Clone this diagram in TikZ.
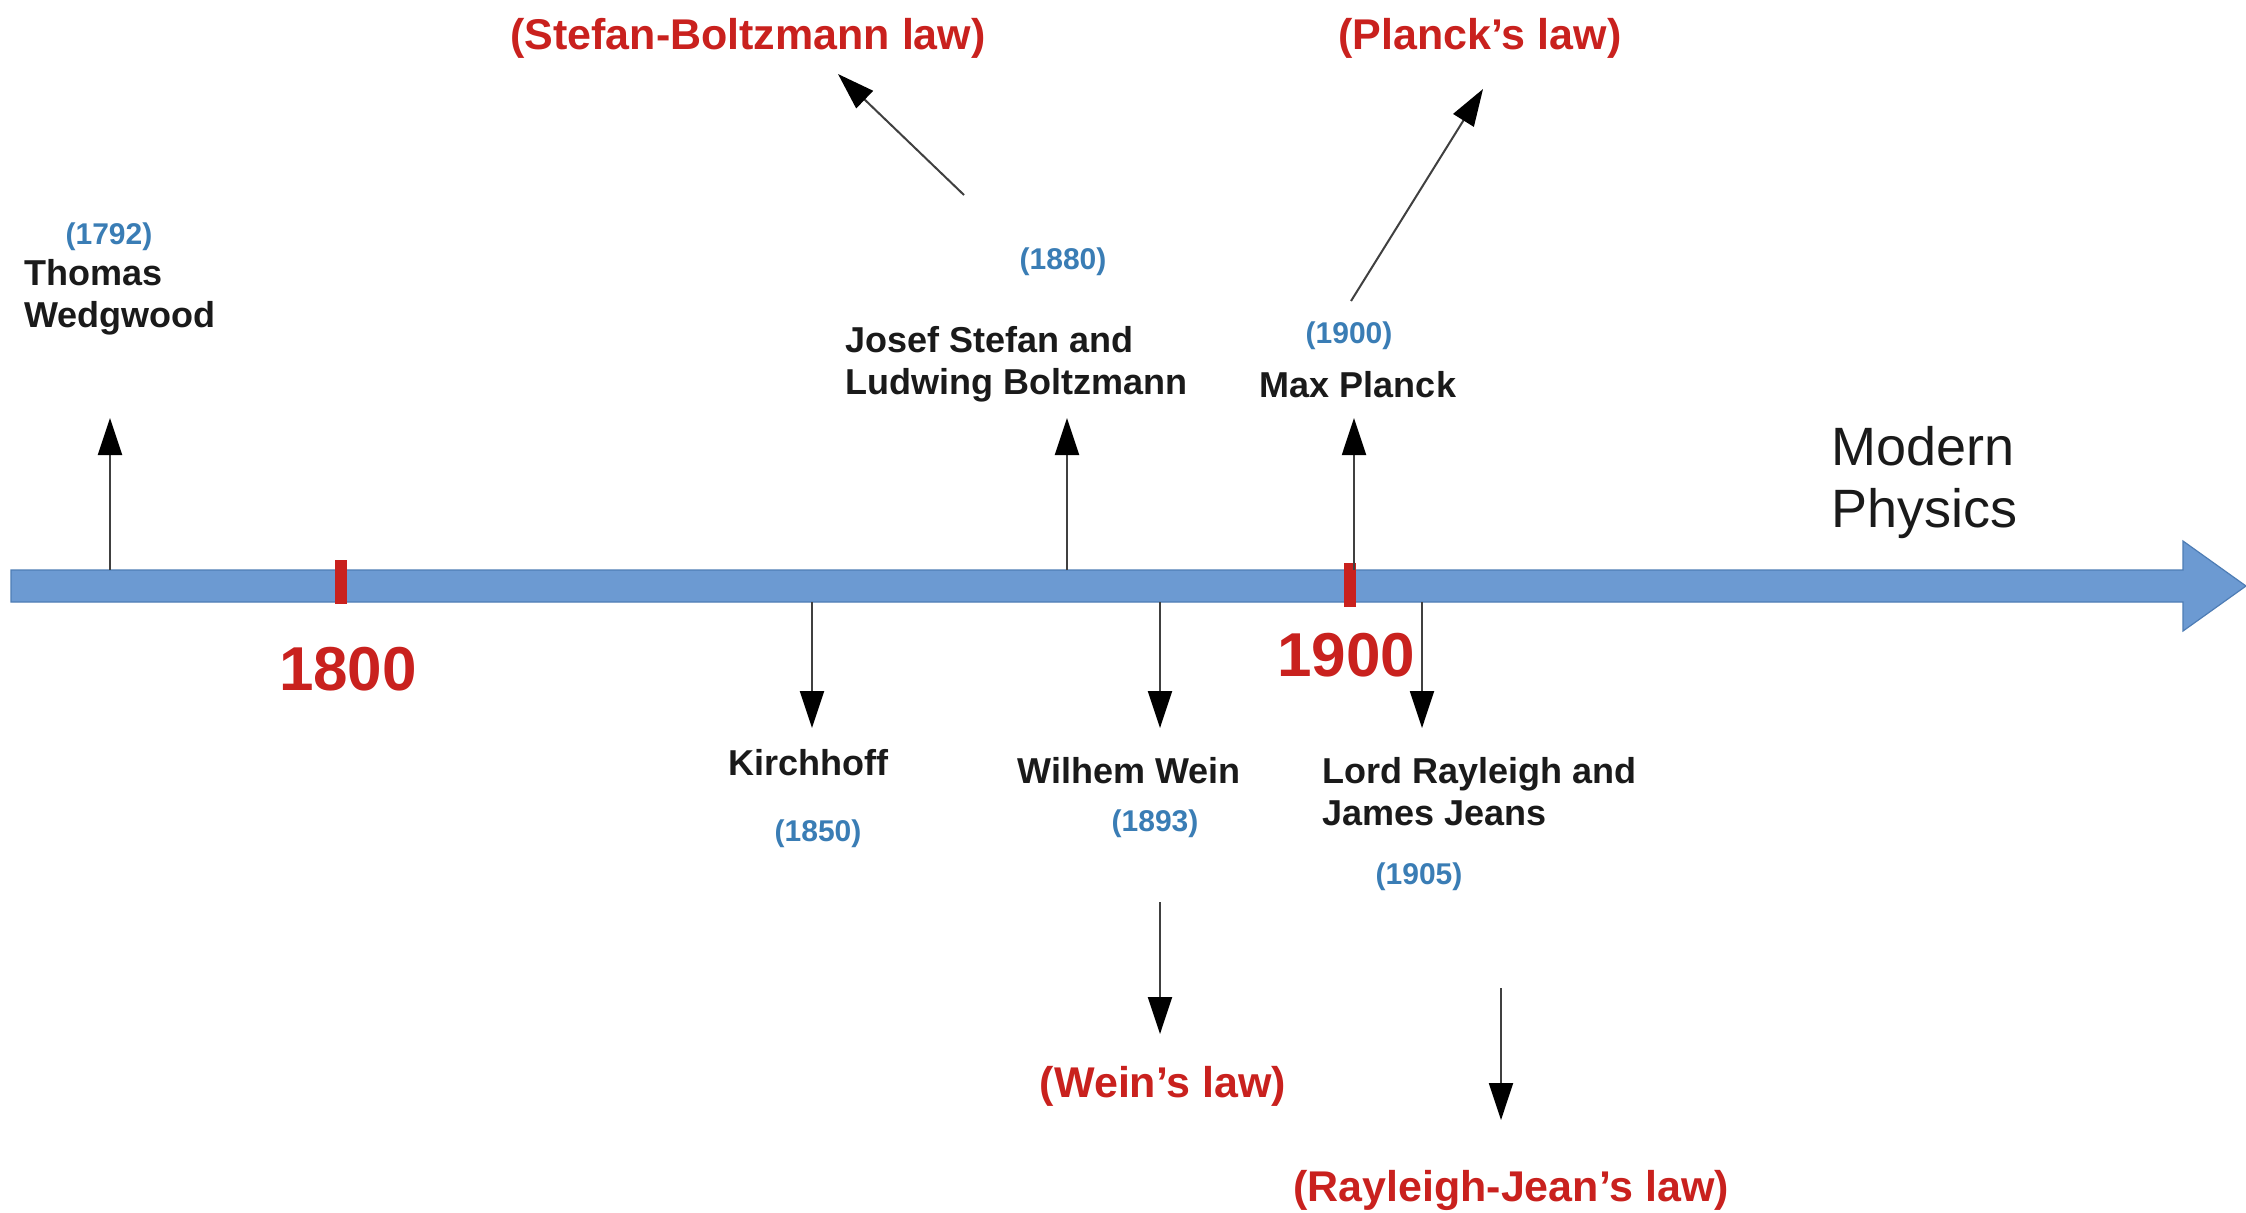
\documentclass[tikz,border=0pt]{standalone}
\usepackage{fontspec}
\setmainfont{Liberation Sans}
\usetikzlibrary{arrows.meta}
\definecolor{barblue}{HTML}{6C9AD2}
\definecolor{baredge}{HTML}{4E7DB5}
\definecolor{lawred}{HTML}{C9211E}
\definecolor{yearblue}{HTML}{3A7DB5}
\definecolor{txt}{HTML}{1A1A1A}
\tikzset{
  namelbl/.style={font=\bfseries\fontsize{18}{21}\selectfont, text=txt, inner sep=0pt, align=left},
  yearlbl/.style={font=\bfseries\fontsize{15}{18}\selectfont, text=yearblue, inner sep=0pt},
  lawlbl/.style={font=\bfseries\fontsize{21.5}{25}\selectfont, text=lawred, inner sep=0pt},
  centlbl/.style={font=\bfseries\fontsize{31}{36}\selectfont, text=lawred, inner sep=0pt},
  modlbl/.style={font=\fontsize{27}{31}\selectfont, text=txt, inner sep=0pt, align=left},
  evarrow/.style={draw=black!75, line width=1pt, -{Triangle[length=18.5pt,width=12pt,fill=black,color=black]}},
  tickmark/.style={fill=lawred, draw=none}
}
\begin{document}
\begin{tikzpicture}[x=0.5pt,y=-0.5pt]
\useasboundingbox (0,0) rectangle (2246,1212);
\fill[white] (0,0) rectangle (2246,1212);
% timeline bar
\filldraw[fill=barblue, draw=baredge, line width=0.6pt]
  (11,570) -- (2183,570) -- (2183,541) -- (2246,586) -- (2183,631) -- (2183,602) -- (11,602) -- cycle;
% century ticks
\fill[tickmark] (335,560) rectangle (347,604);
\fill[tickmark] (1344,563) rectangle (1356,607);
\node[centlbl] (c1800) at (348,669) {1800};
\node[centlbl] (c1900) at (1346,655) {1900};
% anchor points on the bar
\coordinate (pTW) at (110,570);
\coordinate (pSB) at (1067,570);
\coordinate (pMP) at (1354,570);
\coordinate (pKH) at (812,602);
\coordinate (pWW) at (1160,602);
\coordinate (pRJ) at (1422,602);
% arrow tips
\coordinate (tTW) at (110,418);
\coordinate (tSB) at (1067,418);
\coordinate (tMP) at (1354,418);
\coordinate (tKH) at (812,728);
\coordinate (tWW) at (1160,728);
\coordinate (tRJ) at (1422,728);
% labels
\node[yearlbl] (y1792) at (109,237) {(1792)};
\node[namelbl, anchor=west] (nTW) at (24,297) {Thomas\\Wedgwood};
\node[yearlbl] (y1880) at (1063,262) {(1880)};
\node[namelbl, anchor=west] (nSB) at (845,364) {Josef Stefan and\\Ludwing Boltzmann};
\node[yearlbl] (y1900) at (1349,336) {(1900)};
\node[namelbl] (nMP) at (1358,385) {Max Planck};
\node[namelbl] (nKH) at (808,763) {Kirchhoff};
\node[yearlbl] (y1850) at (818,834) {(1850)};
\node[namelbl] (nWW) at (1129,771) {Wilhem Wein};
\node[yearlbl] (y1893) at (1155,824) {(1893)};
\node[namelbl, anchor=west] (nRJ) at (1322,792) {Lord Rayleigh and\\James Jeans};
\node[yearlbl] (y1905) at (1419,877) {(1905)};
\node[modlbl, anchor=west] (mod) at (1831,483) {Modern\\Physics};
% laws
\node[lawlbl] (lSB) at (748,38) {(Stefan-Boltzmann law)};
\node[lawlbl] (lPL) at (1480,38) {(Planck’s law)};
\node[lawlbl] (lWW) at (1163,1086) {(Wein’s law)};
\node[lawlbl] (lRJ) at (1511,1190) {(Rayleigh-Jean’s law)};
% law arrows
\coordinate (sSB) at (964,195);
\coordinate (eSB) at (838,74);
\coordinate (sPL) at (1351,301);
\coordinate (ePL) at (1483,89);
\coordinate (sWW) at (1160,902);
\coordinate (eWW) at (1160,1034);
\coordinate (sRJ) at (1501,988);
\coordinate (eRJ) at (1501,1120);
% event arrows
\draw[evarrow] (pTW) -- (tTW);
\draw[evarrow] (pSB) -- (tSB);
\draw[evarrow] (pMP) -- (tMP);
\draw[evarrow] (pKH) -- (tKH);
\draw[evarrow] (pWW) -- (tWW);
\draw[evarrow] (pRJ) -- (tRJ);
\draw[evarrow] (sSB) -- (eSB);
\draw[evarrow] (sPL) -- (ePL);
\draw[evarrow] (sWW) -- (eWW);
\draw[evarrow] (sRJ) -- (eRJ);
\end{tikzpicture}
\end{document}
